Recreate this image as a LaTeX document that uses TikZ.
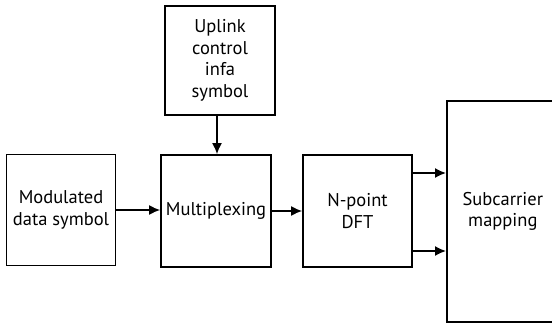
\documentclass[tikz,border=0pt]{standalone}
\usepackage{fontspec}
\setmainfont{PT Sans}
\usetikzlibrary{arrows.meta,positioning}

\begin{document}
\begin{tikzpicture}[
x=1pt, y=1pt,
node distance=33pt,
box/.style={draw, line width=1.7pt, rectangle, minimum width=109pt, minimum height=111pt, align=center, font=\fontsize{18.5}{21.5}\selectfont, inner sep=1pt},
arrow/.style={-{Latex[length=11pt, width=10pt]}, line width=1.6pt}
]
\useasboundingbox (0,0) rectangle (552,-323);

\node[box] (modulated) at (61,-210) {Modulated\\data symbol};
\node[box, minimum width=110pt, minimum height=112pt] (mux) at (216,-211) {Multiplexing};
\node[box, minimum width=110pt, minimum height=109pt] (uplink) at (220,-60.5) {Uplink\\control\\infa\\symbol};
\node[box, minimum height=112pt] (dft) at (357.5,-211) {N-point\\DFT};
\node[box, minimum width=112pt, minimum height=221pt, anchor=west] (subcarrier) at (446,-211.5) {Subcarrier\\mapping};

\draw[arrow] (modulated) -- (mux.west |- modulated);
\draw[arrow] (mux) -- (dft);
\draw[arrow] (uplink.south -| 217,0) -- (mux.north -| 217,0);
\draw[arrow] ([yshift=38pt]dft.east) -- ([yshift=38pt]dft.east -| subcarrier.west);
\draw[arrow] ([yshift=-40pt]dft.east) -- ([yshift=-40pt]dft.east -| subcarrier.west);

\end{tikzpicture}
\end{document}
